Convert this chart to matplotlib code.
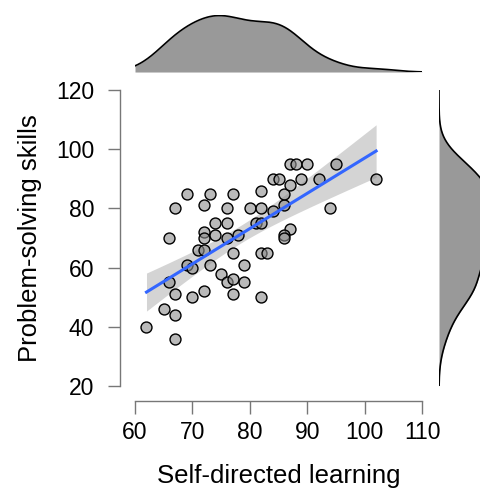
import numpy as np
import matplotlib
matplotlib.use('Agg')
import matplotlib.pyplot as plt

plt.rcParams['font.family'] = ['Liberation Sans', 'DejaVu Sans']

# 数据
self_directed = [62, 65, 67, 67, 66, 67, 70, 72, 66, 67,
                 69, 73, 77, 72, 76, 80, 82, 82, 74, 76,
                 72, 72, 74, 76, 78, 69, 70, 71, 72, 73,
                 77, 75, 76, 77, 77, 79, 79, 82, 82, 83,
                 81, 82, 84, 86, 86, 87, 84, 85, 89, 92,
                 87, 88, 90, 95, 102, 94, 87, 86, 86]
problem_solving = [40, 46, 44, 36, 55, 51, 50, 52, 70, 80,
                   85, 85, 85, 81, 80, 80, 80, 86, 75, 75,
                   72, 70, 71, 70, 71, 61, 60, 66, 66, 61,
                   65, 58, 55, 56, 51, 61, 55, 50, 65, 65,
                   75, 75, 79, 81, 85, 88, 90, 90, 90, 90,
                   95, 95, 95, 95, 90, 80, 73, 71, 70]

x_ticks = [60, 70, 80, 90, 100, 110]
y_ticks = [20, 40, 60, 80, 100, 120]
x_label = 'Self-directed learning'
y_label = 'Problem-solving skills'


def kde(values, grid):
    """高斯核密度估计（R 的 bw.nrd0 带宽）"""
    v = np.asarray(values, dtype=float)
    n = len(v)
    iqr = np.subtract(*np.percentile(v, [75, 25]))
    bw = 0.9 * min(v.std(ddof=1), iqr / 1.34) * n ** (-0.2)
    z = (grid[:, None] - v[None, :]) / bw
    return np.exp(-0.5 * z ** 2).sum(axis=1) / (n * bw * np.sqrt(2 * np.pi))


x = np.array(self_directed, dtype=float)
y = np.array(problem_solving, dtype=float)

fig = plt.figure(figsize=(4.8, 4.95), dpi=100)
ax = fig.add_axes([0.28125, 0.2202, 0.598, 0.598])
ax_top = fig.add_axes([0.28125, 0.8545, 0.598, 0.1152])
ax_right = fig.add_axes([0.9146, 0.2202, 0.119, 0.598])

# 回归线与置信区间
slope, intercept = np.polyfit(x, y, 1)
xs = np.linspace(x.min(), x.max(), 100)
fit = intercept + slope * xs
n = len(x)
resid = y - (intercept + slope * x)
s = np.sqrt(np.sum(resid ** 2) / (n - 2))
df = n - 2
t_val = 1.959964 + (1.959964 ** 3 + 1.959964) / (4 * df)
se = s * np.sqrt(1 / n + (xs - x.mean()) ** 2 / np.sum((x - x.mean()) ** 2))
ax.fill_between(xs, fit - t_val * se, fit + t_val * se, color='#d4d4d4', lw=0, zorder=1)
ax.scatter(x, y, s=62, facecolors=(0.55, 0.55, 0.55, 0.6), edgecolors='black',
           linewidths=1.0, zorder=2)
ax.plot(xs, fit, color='#3366FF', lw=2.2, zorder=3)

ax.set_xlim(60, 110)
ax.set_ylim(20, 120)
ax.set_xticks(x_ticks)
ax.set_yticks(y_ticks)
for side in ['top', 'right']:
    ax.spines[side].set_visible(False)
for side in ['left', 'bottom']:
    ax.spines[side].set_position(('outward', 10.5))
    ax.spines[side].set_color('#777777')
    ax.spines[side].set_linewidth(1.0)
ax.tick_params(length=9, width=1.0, color='#777777', labelsize=16.5, pad=6)
ax.tick_params(axis='y', pad=10)
ax.set_xlabel(x_label, fontsize=18.5, labelpad=14)
ax.set_ylabel(y_label, fontsize=18.5, labelpad=10)

# 上方边际密度
gx = np.linspace(60, 110, 300)
dx = kde(x, gx)
ax_top.fill_between(gx, 0, dx, color='#999999', lw=0)
ax_top.plot(gx, dx, color='black', lw=1.2)
ax_top.set_xlim(60, 110)
ax_top.set_ylim(0, dx.max() * 1.01)
ax_top.axis('off')

# 右侧边际密度
gy = np.linspace(20, 120, 300)
dy = kde(y, gy)
ax_right.fill_betweenx(gy, 0, dy, color='#999999', lw=0)
ax_right.plot(dy, gy, color='black', lw=1.2)
ax_right.set_ylim(20, 120)
ax_right.set_xlim(0, dy.max() * 1.01)
ax_right.axis('off')

plt.savefig('out.png', dpi=100)
